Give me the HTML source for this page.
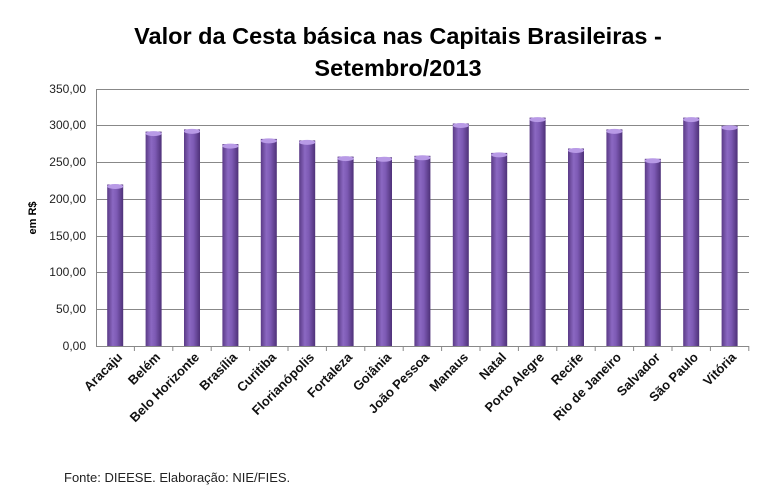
<!DOCTYPE html>
<html><head><meta charset="utf-8"><style>
body{margin:0;background:#fff}
svg{display:block}
text{font-family:"Liberation Sans",sans-serif}
</style></head><body>
<svg width="769" height="500" xmlns="http://www.w3.org/2000/svg">
<defs>
<linearGradient id="g" x1="0" x2="1" y1="0" y2="0">
<stop offset="0" stop-color="#5a3a86"/>
<stop offset="0.35" stop-color="#8b68c2"/>
<stop offset="0.6" stop-color="#7d5ab4"/>
<stop offset="1" stop-color="#4e3178"/>
</linearGradient>
<g id="b">
<rect x="-8" y="0" width="16" height="300" fill="url(#g)"/>
<ellipse cx="0" cy="2" rx="8" ry="2.5" fill="#b89ae6"/>
</g>
</defs>
<text x="398" y="44" text-anchor="middle" font-size="23.5" font-weight="bold" fill="#000">Valor da Cesta básica nas Capitais Brasileiras -</text>
<text x="398" y="76" text-anchor="middle" font-size="23.5" font-weight="bold" fill="#000">Setembro/2013</text>
<g stroke="#888" stroke-width="1">
<line x1="96" y1="89.5" x2="749" y2="89.5"/>
<line x1="96" y1="125.5" x2="749" y2="125.5"/>
<line x1="96" y1="162.5" x2="749" y2="162.5"/>
<line x1="96" y1="199.5" x2="749" y2="199.5"/>
<line x1="96" y1="236.5" x2="749" y2="236.5"/>
<line x1="96" y1="272.5" x2="749" y2="272.5"/>
<line x1="96" y1="309.5" x2="749" y2="309.5"/>
<line x1="96.5" y1="89" x2="96.5" y2="346"/>
</g>
<g font-size="12" fill="#222" text-anchor="end">
<text x="86" y="93">350,00</text><text x="86" y="129">300,00</text><text x="86" y="166">250,00</text><text x="86" y="203">200,00</text><text x="86" y="240">150,00</text><text x="86" y="276">100,00</text><text x="86" y="313">50,00</text><text x="86" y="350">0,00</text>
</g>
<text transform="translate(36,218) rotate(-90)" text-anchor="middle" font-size="11" font-weight="bold">em R$</text>
<svg x="0" y="0" width="769" height="346" overflow="hidden">
<use href="#b" x="115.2" y="184.5"/>
<use href="#b" x="153.6" y="131.6"/>
<use href="#b" x="192.0" y="129.4"/>
<use href="#b" x="230.4" y="144.1"/>
<use href="#b" x="268.8" y="138.9"/>
<use href="#b" x="307.2" y="140.4"/>
<use href="#b" x="345.6" y="156.6"/>
<use href="#b" x="384.0" y="157.3"/>
<use href="#b" x="422.4" y="155.8"/>
<use href="#b" x="460.8" y="123.5"/>
<use href="#b" x="499.2" y="152.9"/>
<use href="#b" x="537.6" y="117.6"/>
<use href="#b" x="576.0" y="148.5"/>
<use href="#b" x="614.4" y="129.4"/>
<use href="#b" x="652.8" y="158.8"/>
<use href="#b" x="691.2" y="117.6"/>
<use href="#b" x="729.6" y="125.7"/>
</svg>
<line x1="96" y1="346.5" x2="749" y2="346.5" stroke="#888"/>
<g stroke="#888">
<line x1="134.4" y1="346" x2="134.4" y2="351"/><line x1="172.8" y1="346" x2="172.8" y2="351"/><line x1="211.2" y1="346" x2="211.2" y2="351"/><line x1="249.6" y1="346" x2="249.6" y2="351"/><line x1="288" y1="346" x2="288" y2="351"/><line x1="326.4" y1="346" x2="326.4" y2="351"/><line x1="364.8" y1="346" x2="364.8" y2="351"/><line x1="403.2" y1="346" x2="403.2" y2="351"/><line x1="441.6" y1="346" x2="441.6" y2="351"/><line x1="480" y1="346" x2="480" y2="351"/><line x1="518.4" y1="346" x2="518.4" y2="351"/><line x1="556.8" y1="346" x2="556.8" y2="351"/><line x1="595.2" y1="346" x2="595.2" y2="351"/><line x1="633.6" y1="346" x2="633.6" y2="351"/><line x1="672" y1="346" x2="672" y2="351"/><line x1="710.4" y1="346" x2="710.4" y2="351"/><line x1="748.8" y1="346" x2="748.8" y2="351"/>
</g>
<g font-size="13" font-weight="bold" text-anchor="end" fill="#111">
<text transform="translate(123,358) rotate(-45)">Aracaju</text>
<text transform="translate(161,358) rotate(-45)">Belém</text>
<text transform="translate(200,358) rotate(-45)">Belo Horizonte</text>
<text transform="translate(238,358) rotate(-45)">Brasília</text>
<text transform="translate(277,358) rotate(-45)">Curitiba</text>
<text transform="translate(315,358) rotate(-45)">Florianópolis</text>
<text transform="translate(353,358) rotate(-45)">Fortaleza</text>
<text transform="translate(392,358) rotate(-45)">Goiânia</text>
<text transform="translate(430,358) rotate(-45)">João Pessoa</text>
<text transform="translate(469,358) rotate(-45)">Manaus</text>
<text transform="translate(507,358) rotate(-45)">Natal</text>
<text transform="translate(545,358) rotate(-45)">Porto Alegre</text>
<text transform="translate(584,358) rotate(-45)">Recife</text>
<text transform="translate(622,358) rotate(-45)">Rio de Janeiro</text>
<text transform="translate(661,358) rotate(-45)">Salvador</text>
<text transform="translate(699,358) rotate(-45)">São Paulo</text>
<text transform="translate(737,358) rotate(-45)">Vitória</text>
</g>
<text x="64" y="482" font-size="13" fill="#222">Fonte: DIEESE. Elaboração: NIE/FIES.</text>
</svg>
</body></html>
